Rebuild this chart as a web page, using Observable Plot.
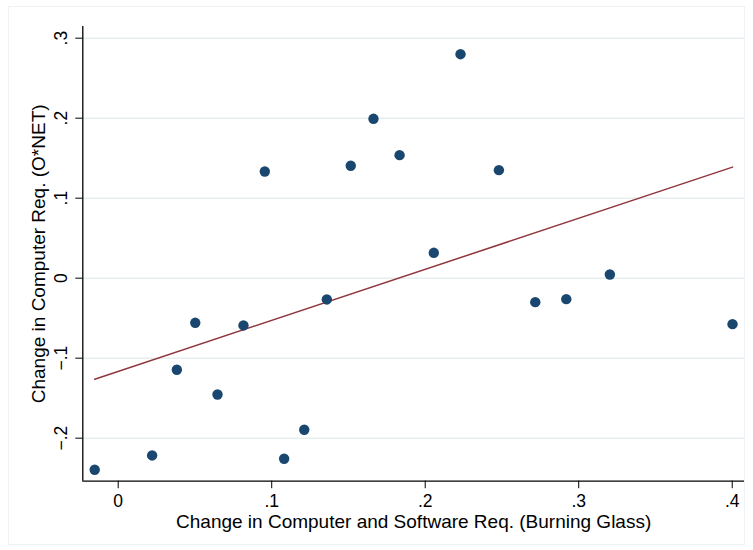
<!DOCTYPE html>
<html><head><meta charset="utf-8">
<script src="https://cdn.jsdelivr.net/npm/d3@7"></script>
<script src="https://cdn.jsdelivr.net/npm/@observablehq/plot@0.6"></script>
<style>body{margin:0;background:#fff}</style>
</head><body><div id="chart"></div>
<script>
const xVals = [-0.0153, 0.0221, 0.0382, 0.0502, 0.0647, 0.0816, 0.0955, 0.1081, 0.1212, 0.1359, 0.1515, 0.1663, 0.1833, 0.2056, 0.2230, 0.2480, 0.2717, 0.2919, 0.3203, 0.4002];
const yVals = [-0.2395, -0.2216, -0.1145, -0.0558, -0.1454, -0.0591, 0.1334, -0.2258, -0.1895, -0.0266, 0.1405, 0.1992, 0.1538, 0.0317, 0.2800, 0.1350, -0.0300, -0.0262, 0.0046, -0.0575];
const fitX = [-0.0153, 0.4002];
const fitY = [-0.1263, 0.1388];
const xTicks = [0, 0.1, 0.2, 0.3, 0.4];
const xTickLabels = ["0", ".1", ".2", ".3", ".4"];
const yTicks = [-0.2, -0.1, 0, 0.1, 0.2, 0.3];
const yTickLabels = ["\u2212.2", "\u2212.1", "0", ".1", ".2", ".3"];
const xTitle = "Change in Computer and Software Req. (Burning Glass)";
const yTitle = "Change in Computer Req. (O*NET)";

const points = xVals.map((x, i) => ({x, y: yVals[i]}));
const fit = fitX.map((x, i) => ({x, y: fitY[i]}));
const xDomain = [-0.02306, 0.408];
const yDomain = [-0.2538, 0.3146];

const chart = Plot.plot({
  width: 753, height: 550,
  marginLeft: 82.3, marginRight: 9, marginTop: 26, marginBottom: 69.3,
  style: {fontFamily: '"Liberation Sans", Arial, sans-serif', fontSize: "17.5px", background: "white", color: "black", overflow: "visible"},
  x: {domain: xDomain},
  y: {domain: yDomain},
  marks: [
    Plot.gridY(yTicks, {stroke: "#e6eef0", strokeOpacity: 1, strokeWidth: 1.5}),
    Plot.axisX(xTicks, {tickSize: 7.5, tickPadding: 6, tickFormat: d => xTickLabels[xTicks.indexOf(d)], label: null}),
    Plot.axisY(yTicks, {tickSize: 7, tickPadding: 8.6, tickRotate: -90, tickFormat: d => yTickLabels[yTicks.indexOf(d)], label: null}),
    Plot.ruleX([xDomain[0]], {stroke: "black", strokeWidth: 1.3}),
    Plot.ruleY([yDomain[0]], {stroke: "black", strokeWidth: 1.3}),
    Plot.line(fit, {x: "x", y: "y", stroke: "#90353b", strokeWidth: 1.5}),
    Plot.dot(points, {x: "x", y: "y", r: 5.2, fill: "#1a476f", stroke: "none"}),
    Plot.text([xTitle], {text: d => d, frameAnchor: "bottom", textAnchor: "middle", dy: 47, lineAnchor: "bottom", fontSize: 19}),
    Plot.text([yTitle], {text: d => d, frameAnchor: "left", textAnchor: "middle", dx: -38.3, rotate: -90, lineAnchor: "bottom", fontSize: 19})
  ]
});
d3.select(chart).append("rect")
  .attr("x", 8.5).attr("y", 6.5).attr("width", 736).attr("height", 538)
  .attr("fill", "none").attr("stroke", "#eef3f5").attr("stroke-width", 1);
document.getElementById("chart").appendChild(chart);
</script>
</body></html>
